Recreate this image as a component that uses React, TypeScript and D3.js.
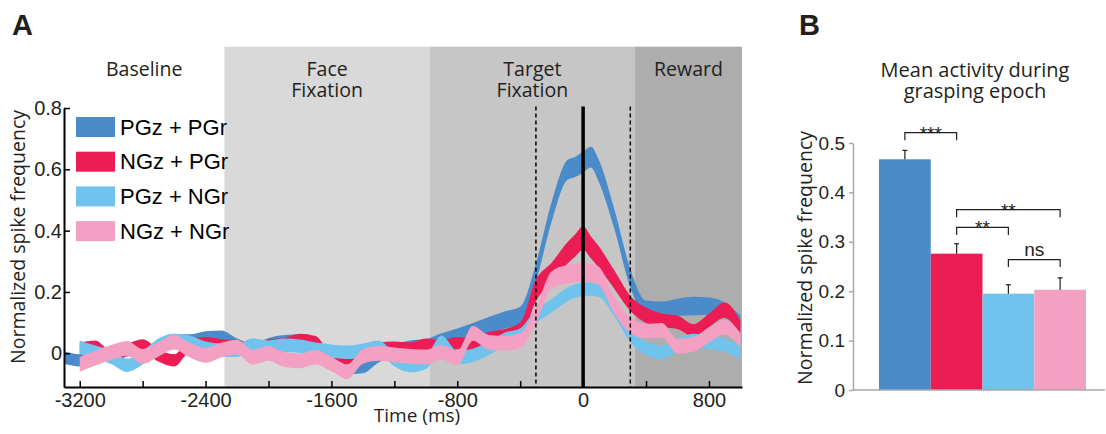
import React, { useRef, useEffect } from 'react';
import * as d3 from 'd3';

// time axis samples (ms, aligned on grasp onset)
const times = [
  -3300, -3200, -3100, -3000, -2900, -2800, -2700, -2600, -2500, -2400, -2300,
  -2200, -2100, -2000, -1900, -1800, -1700, -1600, -1500, -1400, -1300, -1200,
  -1100, -1000, -900, -800, -700, -600, -500, -400, -300, -200, -100, -50, 0, 50,
  100, 200, 300, 400, 500, 600, 700, 800, 900, 1000,
];

// mean normalized firing and half-width of the shaded band, per condition
const pgzPgrMean = [
  -0.013, -0.023, -0.013, 0.003, 0.010, 0.003, 0.020, 0.042, 0.042, 0.050, 0.052,
  0.028, 0.010, 0.030, 0.040, 0.042, 0.015, -0.025, -0.048, -0.045, -0.010, 0.010,
  0.022, 0.026, 0.045, 0.059, 0.075, 0.092, 0.108, 0.124, 0.262, 0.462, 0.598, 0.608, 0.624, 0.640,
  0.595, 0.435, 0.245, 0.147, 0.144, 0.150, 0.154, 0.154, 0.141, 0.101,
];
const pgzPgrSem = [
  0.020, 0.020, 0.020, 0.020, 0.020, 0.020, 0.020, 0.020, 0.020, 0.022, 0.022,
  0.020, 0.020, 0.020, 0.020, 0.020, 0.020, 0.020, 0.020, 0.020, 0.020, 0.020,
  0.020, 0.020, 0.020, 0.022, 0.024, 0.026, 0.028, 0.028, 0.030, 0.032, 0.032, 0.033, 0.034, 0.034,
  0.036, 0.032, 0.030, 0.025, 0.025, 0.028, 0.030, 0.028, 0.025, 0.022,
];
const ngzPgrMean = [
  null, 0.015, 0.022, -0.013, 0.010, 0.026, -0.007, -0.023, 0.026, 0.033, 0.026,
  0.023, 0.010, 0.025, 0.030, 0.044, 0.036, -0.020, -0.025, 0.003, 0.016, 0.018,
  0.015, 0.028, 0.023, 0.033, 0.029, 0.049, 0.059, 0.075, 0.205, 0.265, 0.327, 0.352, 0.376, 0.345,
  0.314, 0.239, 0.163, 0.124, 0.108, 0.101, 0.075, 0.108, 0.141, 0.082,
];
const ngzPgrSem = [
  0.020, 0.020, 0.020, 0.020, 0.020, 0.020, 0.020, 0.020, 0.020, 0.020, 0.020,
  0.020, 0.020, 0.020, 0.020, 0.020, 0.020, 0.020, 0.020, 0.020, 0.020, 0.020,
  0.020, 0.020, 0.020, 0.020, 0.020, 0.020, 0.020, 0.025, 0.035, 0.030, 0.035, 0.036, 0.038, 0.036,
  0.035, 0.030, 0.025, 0.025, 0.022, 0.022, 0.020, 0.022, 0.025, 0.025,
];
const pgzNgrMean = [
  null, 0.020, 0.003, -0.013, -0.039, -0.015, 0.026, 0.042, 0.036, 0.016, 0.010,
  0.010, 0.026, 0.020, 0.026, 0.023, 0.013, 0.007, 0.003, 0.010, 0.020, -0.020,
  -0.040, -0.030, 0.036, -0.013, -0.007, 0.016, 0.045, 0.060, 0.120, 0.155, 0.192, 0.203, 0.209, 0.210,
  0.206, 0.141, 0.059, 0.016, 0.003, 0.026, 0.042, 0.036, 0.026, 0.003,
];
const pgzNgrSem = [
  0.022, 0.022, 0.022, 0.022, 0.022, 0.022, 0.022, 0.022, 0.022, 0.022, 0.022,
  0.022, 0.022, 0.022, 0.022, 0.022, 0.022, 0.022, 0.022, 0.022, 0.022, 0.022,
  0.022, 0.022, 0.022, 0.022, 0.022, 0.022, 0.022, 0.022, 0.022, 0.022, 0.022, 0.022, 0.022, 0.022,
  0.022, 0.022, 0.022, 0.022, 0.022, 0.022, 0.022, 0.022, 0.022, 0.022,
];
const ngzNgrMean = [
  null, -0.036, -0.016, 0.003, 0.016, -0.010, 0.013, 0.036, 0.010, -0.007, 0.010,
  0.020, -0.013, 0.000, -0.020, -0.025, -0.013, -0.035, -0.060, -0.010, 0.000, -0.005,
  -0.010, -0.012, 0.003, -0.015, 0.065, 0.036, 0.033, 0.042, 0.124, 0.239, 0.258, 0.262, 0.265, 0.262,
  0.252, 0.157, 0.092, 0.072, 0.075, 0.023, 0.029, 0.059, 0.085, 0.042,
];
const ngzNgrSem = [
  0.024, 0.024, 0.024, 0.024, 0.024, 0.024, 0.024, 0.024, 0.024, 0.024, 0.024,
  0.024, 0.024, 0.024, 0.024, 0.024, 0.024, 0.024, 0.024, 0.024, 0.024, 0.024,
  0.024, 0.024, 0.024, 0.024, 0.024, 0.024, 0.024, 0.024, 0.026, 0.028, 0.030, 0.030, 0.030, 0.030,
  0.030, 0.028, 0.026, 0.024, 0.024, 0.024, 0.024, 0.024, 0.024, 0.024,
];

const seriesNames = ['PGz + PGr', 'NGz + PGr', 'PGz + NGr', 'NGz + NGr'];
const seriesColors = ['#4a8bca', '#ec1d54', '#70c3ec', '#f4a0c2'];

const epochNames = [['Baseline'], ['Face', 'Fixation'], ['Target', 'Fixation'], ['Reward']];
const epochEdges = [-3300, -2280, -975, 330, 1010];
const epochFills = ['#ffffff', '#d9d9d9', '#c6c6c6', '#adadad'];
const markerTimes = [-300, 300];

const timeTicks = [-3200, -2400, -1600, -800, 0, 800];
const timeMinorTicks = [-2800, -2000, -1200, -400, 400];
const rateTicks = [0, 0.2, 0.4, 0.6, 0.8];

// panel B: mean activity during grasping epoch
const barMeans = [0.467, 0.276, 0.195, 0.203];
const barErrs = [0.018, 0.02, 0.018, 0.024];
const barTicks = [0, 0.1, 0.2, 0.3, 0.4, 0.5];
const sigFrom = [0, 1, 1, 2];
const sigTo = [1, 3, 2, 3];
const sigLevel = [0.521, 0.365, 0.329, 0.264];
const sigLabel = ['***', '**', '**', 'ns'];

const App = () => {
  const svgRef = useRef<SVGSVGElement>(null);

  useEffect(() => {
    const svg = d3.select(svgRef.current);
    svg.selectAll('*').remove();

    const ink = '#231f20';
    const labelFont = '"Open Sans", sans-serif';
    const numFont = '"Liberation Sans", Arial, sans-serif';

    // ---------- panel A ----------
    const x = d3.scaleLinear().domain([-3300, 1010]).range([64, 742]);
    const y = d3.scaleLinear().domain([-0.11, 0.8]).range([387, 108]);

    const gA = svg.append('g');

    epochFills.forEach((fill, i) => {
      const x0 = x(epochEdges[i]);
      const x1 = x(epochEdges[i + 1]);
      gA.append('rect')
        .attr('x', x0).attr('y', y(1))
        .attr('width', x1 - x0).attr('height', y(-0.11) - y(1))
        .attr('fill', fill);
      const label = gA.append('text')
        .attr('y', 75.5)
        .attr('text-anchor', 'middle')
        .attr('font-family', labelFont).attr('font-size', 19.5)
        .attr('fill', ink);
      epochNames[i].forEach((line, j) => {
        label.append('tspan')
          .attr('x', (x0 + x1) / 2).attr('dy', j === 0 ? 0 : 21.5)
          .text(line);
      });
    });

    const means = [pgzPgrMean, ngzPgrMean, pgzNgrMean, ngzNgrMean];
    const sems = [pgzPgrSem, ngzPgrSem, pgzNgrSem, ngzNgrSem];

    means.forEach((m, k) => {
      const area = d3.area<number | null>()
        .defined(d => d !== null)
        .x((_, i) => x(times[i]))
        .y0((d, i) => y((d as number) - sems[k][i]))
        .y1((d, i) => y((d as number) + sems[k][i]))
        .curve(d3.curveMonotoneX);
      gA.append('path').datum(m).attr('d', area).attr('fill', seriesColors[k]);
    });

    markerTimes.forEach(t => {
      gA.append('line')
        .attr('x1', x(t)).attr('x2', x(t))
        .attr('y1', y(0.805)).attr('y2', y(-0.11))
        .attr('stroke', '#000').attr('stroke-width', 1.5)
        .attr('stroke-dasharray', '4,3');
    });
    gA.append('line')
      .attr('x1', x(0)).attr('x2', x(0))
      .attr('y1', y(0.805)).attr('y2', y(-0.11))
      .attr('stroke', '#000').attr('stroke-width', 3.5);

    // axes
    const xAxis = gA.append('g')
      .attr('transform', `translate(0,${y(-0.11)})`)
      .call(d3.axisBottom(x).tickValues(timeTicks).tickSizeInner(-6).tickSizeOuter(0)
        .tickPadding(6).tickFormat(d => String(d)));
    gA.append('g')
      .attr('transform', `translate(0,${y(-0.11)})`)
      .call(d3.axisBottom(x).tickValues(timeMinorTicks).tickSizeInner(-6).tickSizeOuter(0)
        .tickFormat(() => ''))
      .call(g => g.select('.domain').remove())
      .selectAll('line').attr('stroke', '#000').attr('stroke-width', 1.5);
    const yAxis = gA.append('g')
      .attr('transform', `translate(${x(-3300)},0)`)
      .call(d3.axisLeft(y).tickValues(rateTicks).tickSizeInner(-6).tickSizeOuter(0)
        .tickPadding(2).tickFormat(d => String(d)));

    [xAxis, yAxis].forEach(ax => {
      ax.select('.domain').attr('stroke', '#000').attr('stroke-width', 2);
      ax.selectAll('.tick line').attr('stroke', '#000').attr('stroke-width', 1.5);
      ax.selectAll('text').attr('font-family', numFont).attr('font-size', 20).attr('fill', ink);
    });

    gA.append('text')
      .attr('transform', 'translate(25,237) rotate(-90)')
      .attr('text-anchor', 'middle')
      .attr('font-family', labelFont).attr('font-size', 19.5).attr('fill', ink)
      .text('Normalized spike frequency');
    gA.append('text')
      .attr('x', 417).attr('y', 422)
      .attr('text-anchor', 'middle')
      .attr('font-family', labelFont).attr('font-size', 19).attr('fill', ink)
      .text('Time (ms)');

    // legend
    seriesNames.forEach((name, i) => {
      const cy = 127 + i * 34.7;
      gA.append('rect')
        .attr('x', 76).attr('y', cy - 10).attr('width', 39).attr('height', 20)
        .attr('fill', seriesColors[i]);
      gA.append('text')
        .attr('x', 120).attr('y', cy + 7.5)
        .attr('font-family', numFont).attr('font-size', 22).attr('fill', '#000')
        .text(name);
    });

    // panel letters
    svg.append('text').attr('x', 12).attr('y', 35)
      .attr('font-family', numFont).attr('font-weight', 'bold').attr('font-size', 29)
      .attr('fill', ink).text('A');
    svg.append('text').attr('x', 799).attr('y', 35)
      .attr('font-family', numFont).attr('font-weight', 'bold').attr('font-size', 29)
      .attr('fill', ink).text('B');

    // ---------- panel B ----------
    const gB = svg.append('g');
    const bx = d3.scaleBand<number>().domain([0, 1, 2, 3]).range([879, 1086]).padding(0);
    const by = d3.scaleLinear().domain([0, 0.5]).range([390, 143]);

    barMeans.forEach((v, i) => {
      gB.append('rect')
        .attr('x', bx(i)!).attr('width', bx.bandwidth())
        .attr('y', by(v)).attr('height', by(0) - by(v))
        .attr('fill', seriesColors[i]);
      const cx = bx(i)! + bx.bandwidth() / 2;
      gB.append('line')
        .attr('x1', cx).attr('x2', cx)
        .attr('y1', by(v)).attr('y2', by(v + barErrs[i]))
        .attr('stroke', ink).attr('stroke-width', 1.2);
      gB.append('line')
        .attr('x1', cx - 2.5).attr('x2', cx + 2.5)
        .attr('y1', by(v + barErrs[i])).attr('y2', by(v + barErrs[i]))
        .attr('stroke', ink).attr('stroke-width', 1.2);
    });

    sigLabel.forEach((lab, k) => {
      const xa = bx(sigFrom[k])! + bx.bandwidth() / 2;
      const xb = bx(sigTo[k])! + bx.bandwidth() / 2;
      const yt = by(sigLevel[k]);
      gB.append('path')
        .attr('d', `M${xa},${yt + 7.5}V${yt}H${xb}V${yt + 7.5}`)
        .attr('fill', 'none').attr('stroke', ink).attr('stroke-width', 1.2);
      const isNs = lab === 'ns';
      gB.append('text')
        .attr('x', (xa + xb) / 2).attr('y', isNs ? yt - 3.5 : yt + 7)
        .attr('text-anchor', 'middle')
        .attr('font-family', numFont).attr('font-size', 19)
        .attr('fill', ink)
        .text(lab);
    });

    const bAxis = gB.append('g')
      .attr('transform', `translate(853,0)`)
      .call(d3.axisLeft(by).tickValues(barTicks).tickSizeInner(4).tickSizeOuter(0)
        .tickPadding(4).tickFormat(d => String(d)));
    bAxis.select('.domain').attr('stroke', '#a7a9ac').attr('stroke-width', 1.5);
    bAxis.selectAll('.tick line').attr('stroke', '#a7a9ac').attr('stroke-width', 1.5);
    bAxis.selectAll('text').attr('font-family', numFont).attr('font-size', 19).attr('fill', ink);
    gB.append('line')
      .attr('x1', 853).attr('x2', 1105)
      .attr('y1', by(0)).attr('y2', by(0))
      .attr('stroke', '#a7a9ac').attr('stroke-width', 1.5);

    gB.append('text')
      .attr('transform', 'translate(812,258) rotate(-90)')
      .attr('text-anchor', 'middle')
      .attr('font-family', labelFont).attr('font-size', 19.5).attr('fill', ink)
      .text('Normalized spike frequency');
    const title = gB.append('text')
      .attr('y', 76.5)
      .attr('text-anchor', 'middle')
      .attr('font-family', labelFont).attr('font-size', 20).attr('fill', ink);
    ['Mean activity during', 'grasping epoch'].forEach((line, j) => {
      title.append('tspan').attr('x', 975).attr('dy', j === 0 ? 0 : 21).text(line);
    });
  }, []);

  return (
    <svg
      ref={svgRef}
      width={1106}
      height={434}
      style={{ position: 'absolute', left: 0, top: 0, background: '#fff' }}
    />
  );
};

export default App;
